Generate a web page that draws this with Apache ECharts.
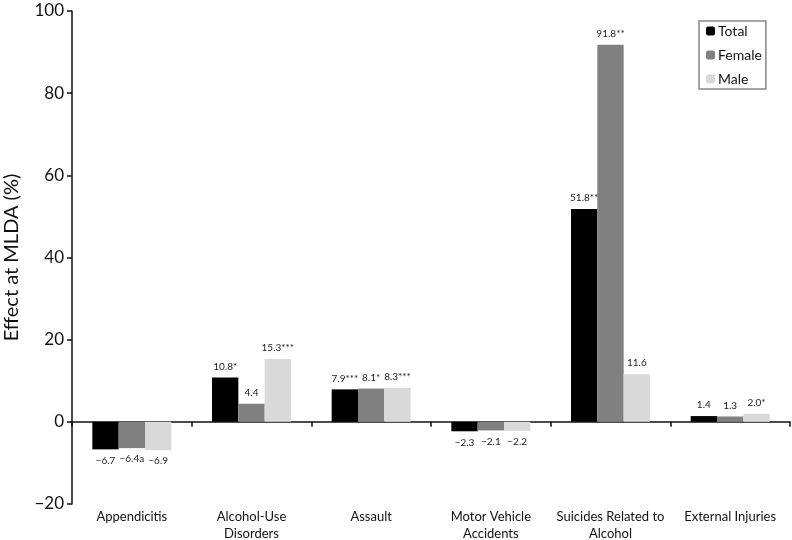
<!DOCTYPE html>
<html>
<head>
<meta charset="utf-8">
<script src="https://cdn.jsdelivr.net/npm/echarts@6/dist/echarts.min.js"></script>
<style>html,body{margin:0;padding:0;background:#fff}#c{width:792px;height:540px}</style>
</head>
<body>
<div id="c"></div>
<script>
var categories = ["Appendicitis", "Alcohol-Use\nDisorders", "Assault", "Motor Vehicle\nAccidents", "Suicides Related to\nAlcohol", "External Injuries"];
var totalValues = [-6.7, 10.8, 7.9, -2.3, 51.8, 1.4];
var femaleValues = [-6.4, 4.4, 8.1, -2.1, 91.8, 1.3];
var maleValues = [-6.9, 15.3, 8.3, -2.2, 11.6, 2.0];
var totalLabels = ["\u22126.7", "10.8*", "7.9***", "\u22122.3", "51.8**", "1.4"];
var femaleLabels = ["\u22126.4a", "4.4", "8.1*", "\u22122.1", "91.8**", "1.3"];
var maleLabels = ["\u22126.9", "15.3***", "8.3***", "\u22122.2", "11.6", "2.0*"];
var yTicks = [-20, 0, 20, 40, 60, 80, 100];

var FONT = "Lato";
function mkData(vals, labs) {
  return vals.map(function (v, i) {
    return {
      value: v,
      label: {
        position: v < 0 ? 'bottom' : 'top',
        distance: 6,
        formatter: labs[i]
      }
    };
  });
}
function mkSeries(name, color, vals, labs) {
  return {
    name: name,
    type: 'bar',
    barGap: '0%',
    barCategoryGap: '34%',
    itemStyle: { color: color },
    label: { show: true, fontFamily: FONT, fontSize: 10, color: '#222' },
    data: mkData(vals, labs)
  };
}
var chart = echarts.init(document.getElementById('c'), null, { renderer: 'canvas' });
chart.setOption({
  animation: false,
  textStyle: { fontFamily: FONT },
  grid: { left: 72, right: 2, top: 11, bottom: 36, containLabel: false, outerBoundsMode: 'none' },
  legend: {
    orient: 'vertical',
    left: 699, top: 21,
    padding: [3, 4, 3, 7],
    itemWidth: 9, itemHeight: 9, itemGap: 10,
    borderColor: '#888', borderWidth: 1.5,
    textStyle: { fontFamily: FONT, fontSize: 14, color: '#111', padding: [0, 0, 0, -2] },
    data: ['Total', 'Female', 'Male']
  },
  xAxis: {
    type: 'category',
    data: categories,
    axisLine: { onZero: true, lineStyle: { color: '#111', width: 1.5 } },
    axisTick: { show: true, length: 5, inside: false, lineStyle: { color: '#111', width: 1.5 } },
    axisLabel: { interval: 0, margin: 4, verticalAlign: 'top', fontFamily: FONT, fontSize: 13, color: '#111', lineHeight: 17, hideOverlap: false },
    splitLine: { show: false }
  },
  yAxis: {
    type: 'value',
    min: yTicks[0], max: yTicks[yTicks.length - 1], interval: 20,
    name: 'Effect at MLDA (%)',
    nameLocation: 'middle',
    nameGap: 50,
    nameTextStyle: { fontFamily: FONT, fontSize: 20, color: '#111' },
    axisLine: { show: true, lineStyle: { color: '#111', width: 1.5 } },
    axisTick: { show: true, length: 5, lineStyle: { color: '#111', width: 1.5 } },
    axisLabel: {
      fontFamily: FONT, fontSize: 17, color: '#111', margin: 8,
      formatter: function (v) { return v < 0 ? '\u2212' + Math.abs(v) : String(v); }
    },
    splitLine: { show: false }
  },
  series: [
    mkSeries('Total', '#000000', totalValues, totalLabels),
    mkSeries('Female', '#808080', femaleValues, femaleLabels),
    mkSeries('Male', '#d9d9d9', maleValues, maleLabels)
  ]
});
</script>
</body>
</html>
